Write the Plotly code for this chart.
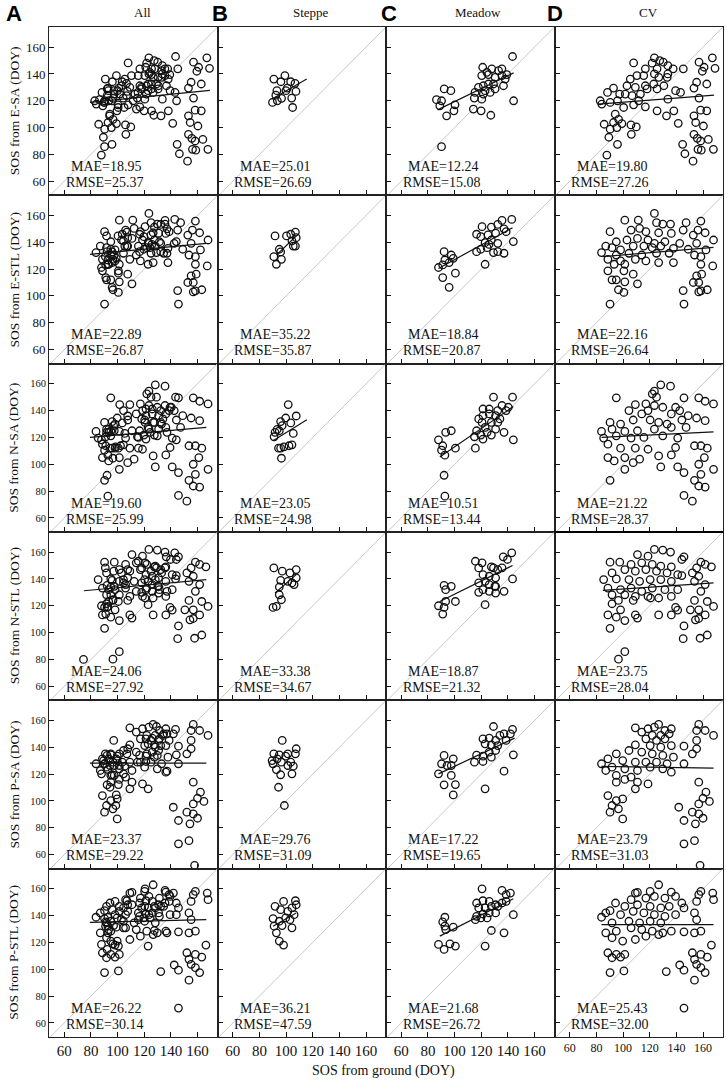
import plotly.graph_objects as go
from plotly.subplots import make_subplots

# ---------------- data ----------------
PRODUCTS = ["E-SA", "E-STL", "N-SA", "N-STL", "P-SA", "P-STL"]
COLUMNS = ["All", "Steppe", "Meadow", "CV"]
PANEL_LETTERS = ["A", "B", "C", "D"]
TICKS = [60, 80, 100, 120, 140, 160]
X_LABEL = "SOS from ground (DOY)"

MAE_ALL = [18.95, 22.89, 19.60, 24.06, 23.37, 26.22]
RMSE_ALL = [25.37, 26.87, 25.99, 27.92, 29.22, 30.14]
MAE_STEPPE = [25.01, 35.22, 23.05, 33.38, 29.76, 36.21]
RMSE_STEPPE = [26.69, 35.87, 24.98, 34.67, 31.09, 47.59]
MAE_MEADOW = [12.24, 18.84, 10.51, 18.87, 17.22, 21.68]
RMSE_MEADOW = [15.08, 20.87, 13.44, 21.32, 19.65, 26.72]
MAE_CV = [19.80, 22.16, 21.22, 23.75, 23.79, 25.43]
RMSE_CV = [27.26, 26.64, 28.37, 28.04, 31.03, 32.00]

# (ground SOS, satellite SOS) pairs
ESA_STEPPE = [(90.8,136.2),(99.1,138.8),(96.1,134.2),(103.4,134.2),(106.7,133),(93.1,127.5),(100.9,129.5),
              (107.4,127),(92.3,124.2),(96.6,121.8),(89.8,118.8),(104.2,122),(104.9,115),(93.4,120),(99.9,127.5)]
ESA_MEADOW = [(143.5,153),(121.1,145),(127.9,143.8),(133,142.5),(135.5,143.8),(124.2,141.2),(120.4,138.8),
              (125.4,139.5),(130.4,137.5),(135.5,138.8),(139.2,139.5),(138,136.2),(121.6,131.2),(117.9,130),
              (125.4,132.5),(129.2,132.5),(122.9,127.5),(130.4,128.8),(136.7,131.2),(115.3,126.2),(121.6,125),
              (126.7,126.2),(120.4,121.2),(114.8,122),(144.3,120),(114.1,113.8),(119.9,112.5),(127.2,109.2),
              (92.2,128.8),(97.2,127.5),(86.4,120.8),(90.2,120),(88.9,116.2),(100.3,117),(94,108.8),(99.5,112.5),
              (90.2,85.8)]
ESA_CV = [(167,152),(169,144.2),(157,148.8),(160.8,145),(159.5,142),(145.2,143.8),(107.9,148.2),(123.5,152),
          (127.5,150),(130.1,148.8),(121.8,148),(116.7,143.8),(125.5,143.8),(133.6,146.2),(137.6,143.8),
          (105.4,136.2),(110.4,138.8),(115.5,138.8),(123.5,140),(126.8,137.5),(133.1,137.5),(102.9,131.2),
          (109.2,130),(116.7,131.2),(123,132.5),(130.6,131.2),(133.6,140),(139.4,127.5),(143.1,126.2),
          (153.2,129.5),(155.2,133.8),(162.8,132.5),(92.8,129.5),(97.4,125),(101.6,125),(106.7,123.8),
          (113,125),(118,128.8),(125.5,128.8),(133.6,121.2),(88.3,126.2),(82.8,120),(84,117.5),(90.3,118.8),
          (95.8,120),(100.4,115),(107.9,117),(111.7,120),(116.7,115.5),(125.5,112.5),(132.6,108.8),
          (138.1,112.5),(157,122),(158.2,113),(162.8,112.5),(94.1,110),(96.6,106.2),(99.1,103),(95.3,100),
          (92.8,103.8),(85.8,102.5),(90.3,98.8),(105.9,102),(109.9,100.5),(106.2,95),(141.4,103.2),
          (153.2,108.8),(154.5,103.8),(160.3,101.2),(153.2,95),(155.7,92),(158.2,90),(164,91.2),(156.2,83.8),
          (158.7,83.2),(167.8,83.8),(144.7,87.5),(146.4,80.5),(152.5,75),(95.8,87.5),(89.3,92.8),(87.8,79.5)]

ESTL_STEPPE = [(91.7,144.7),(100.3,144.7),(103.5,146),(107,147.6),(107.6,143.4),(104.4,141),(105.4,137.2),
               (107,137.2),(95.9,132.8),(94.9,134.8),(90.8,129.3),(96.5,127.3),(92.7,123.6)]
ESTL_MEADOW = [(142.9,157),(135.6,156.3),(120.6,151.6),(127.6,151.3),(132.4,153.3),(116.5,146),(119.7,144.2),
               (125.1,145.5),(130.8,146.8),(137.1,150),(138.7,147.9),(122.9,139.7),(127.6,141.7),(132.4,139.2),
               (116.5,133),(119.7,134.8),(124.4,136),(129.2,132.3),(132.4,133),(137.1,131.8),(144.1,140.5),
               (125.8,138.4),(92.1,133),(97.5,130.5),(99,128),(92.7,126.8),(91.1,123.1),(87.9,121.2),(95.9,124.9),
               (91.1,113.7),(100.6,117),(95.9,106.4),(122.9,123.6)]
ESTL_CV = [(123.5,161.5),(101.3,156.5),(111.4,156.5),(147.3,154.6),(125.1,154.6),(129.8,153.6),(135.6,153.6),
           (158.4,155.8),(90.2,147.9),(106,149.1),(112.4,150.3),(117.1,147.9),(126.7,147.1),(136.2,146.6),
           (145.1,149.1),(152.7,145.4),(156.2,149.1),(161.6,147.1),(167.9,141.7),(94.9,140.4),(102.9,141.7),
           (110.8,142.9),(118.7,141.7),(123.5,139.2),(131.4,140.4),(142.5,139.2),(155.2,139.2),(87,137.2),
           (91.7,136),(98.1,134.3),(107.6,137.2),(115.6,137.2),(121.9,136),(128.3,137.2),(137.8,135.5),
           (148.9,134.8),(162.2,134.3),(83.8,132.3),(94.9,130.5),(104.4,131.8),(114,130.5),(125.1,131.8),
           (134.6,131.8),(153.6,130.5),(158.4,129.3),(88.6,127.3),(98.1,126.1),(109.2,127.3),(117.1,126.1),
           (126.7,124.9),(137.8,124.9),(93.3,123.6),(101.3,123.6),(158.4,123.6),(167.3,122.4),(88.6,118.7),
           (100.6,118.7),(107.6,116.2),(94.9,112),(101.3,110.5),(91.7,112),(110.8,109),(96.5,104.6),
           (100.6,102.6),(155.2,115),(159,116.2),(152.7,110),(156.8,110),(158.4,103.8),(163.2,104.6),
           (145.1,104),(156.8,103),(90.2,93.9),(145.7,93.9)]

NSA_STEPPE = [(101.6,144.5),(107.6,136),(99.7,134.5),(95.9,131.8),(103.5,130.8),(97,128.8),(93.3,126),
              (91.7,123.8),(94.9,125),(91,120.5),(105.4,123),(95.9,112),(98.4,113),(102.2,113.8),(104.4,114.5),
              (96.5,104.5),(94.3,112)]
NSA_MEADOW = [(129.2,150),(143.5,150),(121.3,141.2),(126,141.2),(135.6,143.8),(132.4,140),(140.3,142.5),
              (138.7,140),(121.3,136.2),(126,137.5),(130.8,136.2),(120.6,131.2),(127.6,131.2),(134,133.8),
              (122.9,127.5),(130.8,126.2),(116.5,125),(124.4,123.8),(119.7,121.8),(127.6,121.8),(114.9,120.5),
              (121.3,118.8),(137.1,123.8),(144.1,118.2),(115.6,112),(97.5,125),(93.3,123.8),(87.9,118.2),
              (91.1,113.8),(100.6,112),(92.7,106.8),(90.2,110.5),(92.1,91.8),(92.7,76.2),(118.1,133.8),
              (132.4,131.2)]
NSA_CV = [(128.3,159.2),(135.6,158.2),(123.5,154.5),(121.9,152.5),(125.1,150),(94.9,149.5),(145.7,149.5),
          (156.8,149.5),(161.6,147),(167.9,145),(109.2,144.5),(117.1,145),(123.5,143.8),(129.8,142.5),
          (118.7,140),(139.4,142.5),(136.2,137.5),(142.5,140),(104.4,140),(114,137.5),(148.9,136.2),
          (155.2,134.5),(161.6,132.5),(90.2,131.2),(98.1,130),(107.6,133),(120.3,133),(126.7,131.2),
          (133,130),(144.1,133),(83.8,124.5),(91.7,126.2),(101.3,124.5),(110.8,125),(123.5,126.2),
          (136.2,127.5),(147.3,127.5),(85.4,119.5),(94.9,121.2),(106,119.5),(115.6,120),(129.8,121.2),
          (141,119.5),(88.6,115),(98.1,112),(109.2,112),(118.7,111.2),(139.4,112.5),(153.6,113.8),
          (158.4,113.8),(163.2,112),(88.6,105),(93.3,102.5),(101.3,105),(107.6,101.2),(112.4,103.8),
          (126.7,106.2),(136.2,107),(161,105),(101.3,96.2),(128.3,98),(141,98),(145.7,93.8),(156.8,100),
          (158.4,92.5),(167.9,96.2),(153.6,88),(156.8,83.8),(161.6,83),(90.2,88),(145.7,76.8),(152,72.5)]

NSTL_STEPPE = [(90.8,148.2),(97.1,145.8),(102.9,144.5),(107.6,147),(101.3,138.2),(95.9,139),(104.4,137),
               (107.6,140.8),(106,135.8),(94.9,134),(94.9,128.2),(96.5,124.5),(90.2,118.8),(92.7,119.5)]
NSTL_MEADOW = [(142.9,159.5),(136.5,156.5),(139.7,154.5),(115.6,153.2),(120.6,152),(118.1,148.2),(127.6,149),
               (129.2,148.2),(132.4,147),(135.6,148.2),(121.3,143.2),(126,142),(130.8,140.8),(143.5,140),
               (118.1,137),(122.9,138.2),(126,135.8),(130.8,134.5),(121.3,132),(118.1,130),(126,130.8),
               (130.8,129.5),(137.1,130.8),(130.2,134.5),(122.9,120.8),(92.1,135.2),(97.5,134.5),(93.3,132),
               (100.6,123.2),(93.3,123.2),(87.9,120),(92.1,118.8),(91.1,113.8)]
NSTL_CV = [(123.5,162),(129.8,161.5),(135.6,160),(110.8,158.2),(118.7,157),(145.7,156.5),(144.1,154.5),
           (90.2,152.5),(97.5,152.5),(106,150.8),(114,152),(121.9,150.8),(128.3,149.5),(136.2,149),
           (158.4,152.5),(161.6,150.8),(166.3,149),(155.2,148.2),(101.3,147),(109.2,145.8),(117.1,147),
           (125.1,145.8),(133,144.5),(141,143.2),(152,144.5),(156.8,142),(91.7,144.5),(85.4,139.5),(94.9,140),
           (104.4,139.5),(112.4,138.2),(120.3,139.5),(128.3,139.5),(136.2,138.2),(144.1,142.5),(153.6,138.2),
           (161.6,135.8),(88.6,133.2),(98.1,132),(106,133.2),(114,130.8),(121.9,133.2),(131.4,132),(141,132),
           (158.4,130.8),(91.7,128.2),(101.3,128.2),(109.2,127),(118.7,127),(126.7,125.8),(136.2,127),
           (96.5,124),(107.6,124),(120.6,125.8),(153.6,124),(163.2,123.2),(150.5,117),(156.8,117),(91.7,121.5),
           (98.1,117),(88.6,113.2),(94.9,111.5),(101.3,109),(109.2,113.2),(110.8,110.8),(90.2,103.2),
           (126.7,113.2),(136.2,113.2),(139.4,118.8),(141,116.8),(156.8,110.5),(161.6,113.2),(154.3,109.5),
           (167.9,119.5),(145.7,105),(145.1,95.5),(157.8,95.8),(163.2,98.2),(101.3,85.8),(96.5,80.2)]

PSA_STEPPE = [(97.1,145.1),(90.8,135.1),(94.9,134.4),(99.7,133.4),(107.6,138.9),(107,135.1),(101.3,135.1),
              (93.3,131.4),(89.5,130.1),(96.5,128.9),(103.5,128.9),(101.3,126.4),(92.7,123.4),(104.4,120.2),
              (95.9,119.5),(94.3,110.2),(98.7,96.6),(105.4,125.9),(90.2,127.7)]
PSA_MEADOW = [(129.2,155.5),(143.5,153.3),(141.9,150),(137.1,150),(134,148.8),(121.3,146.3),(126,146.8),
              (130.8,145.1),(122.9,142.6),(127.6,141.8),(132.4,141.3),(138.7,145.1),(116.5,134.1),(121.3,133.4),
              (126,136.4),(130.8,137.6),(114.9,128.9),(121.3,129.4),(127.6,132.6),(144.1,134.4),(137.1,122.2),
              (122.9,109),(92.1,133.9),(99,131.4),(90.2,127.7),(94.3,126.4),(97.5,126.4),(87.9,120.2),(97.5,119),
              (92.1,112),(100.6,112.2),(99,104.5)]
PSA_CV = [(126.7,157),(109.2,154.5),(118.7,153.8),(123.5,155),(131.4,152.5),(136.2,153.8),(156.8,157),
          (155.2,152.5),(161.6,152.5),(167.9,148.8),(114,151.3),(121.9,148.8),(128.3,148.8),(134.6,150),
          (117.1,146.3),(125.1,145.1),(131.4,146.3),(109.2,141.8),(120.3,141.3),(128.3,140.1),(136.2,141.3),
          (145.7,140.8),(155.2,145.1),(94.9,135.1),(104.4,137.6),(114,136.4),(121.9,135.1),(129.8,133.9),
          (137.8,132.6),(152,135.1),(155.2,138.9),(88.6,131.4),(99.7,130.1),(109.2,128.9),(117.1,128.9),
          (125.1,128.9),(133,127.7),(145.7,127.7),(83.8,127.7),(91.7,125.2),(101.3,123.9),(110.8,122.7),
          (120.3,125.2),(129.8,123.9),(136.2,121.4),(87,122.7),(94.9,119),(101.3,116),(106,117.7),(94.9,114),
          (110.8,114),(118.7,112.7),(109.2,109),(156.8,114),(88.6,104),(94.9,100.3),(99.7,101.5),(91.7,96.6),
          (96.5,94.1),(90.2,91.6),(99.7,86.6),(160,102),(164.8,99.6),(162.2,106.5),(156.8,97.8),(141.8,95.3),
          (152,91.6),(156.8,90.3),(160,87.1),(154.3,82.9),(145.7,85.4),(145.7,68),(153.6,70.4),(157.8,52)]

PSTL_STEPPE = [(98.1,150.6),(107,151.1),(107.6,148.1),(91.7,146.9),(95.9,144.4),(101.3,143.2),(104.4,145.7),
               (99.7,138.3),(90.2,137.8),(94.9,135.8),(102.9,137),(106,140.7),(91,132.1),(97,132.6),(104.4,130.9),
               (92.7,127.2),(94.9,121),(98.1,118)]
PSTL_MEADOW = [(120.6,160),(135.6,158.8),(141.9,156.8),(138.7,155.6),(116.5,149.4),(121.3,151.1),(126,150.6),
               (130.8,148.1),(135.6,149.4),(138.7,150.6),(118.1,145.7),(122.9,145.7),(127.6,146.9),(132.4,146.9),
               (116.5,139.5),(121.3,141.2),(126,142),(130.8,142),(115.6,137),(119.7,138.3),(124.4,138.3),
               (144.1,140.7),(127.6,128.9),(137.1,127.2),(122.9,117.3),(92.7,138.8),(91.1,135.3),(92.7,132.1),
               (99,131.4),(93.3,129.6),(87.9,118.5),(92.1,114.8),(96.5,119),(100.6,117.3)]
PSTL_CV = [(126.7,163),(109.2,156.8),(110.8,157.3),(120.3,158),(136.2,157.5),(158.4,158),(167.3,156.8),
           (156.8,155.6),(167.9,151.9),(94.3,149.4),(106,151.9),(117.1,153.1),(123.5,154.3),(131.4,153.1),
           (139.4,154.3),(144.1,149.4),(155.2,150.6),(90.2,143.7),(101.3,146.9),(110.8,148.1),(120.3,146.9),
           (128.3,145.7),(134.6,146.9),(145.7,145.7),(87,142),(98.1,140.7),(107.6,143.2),(115.6,142),
           (123.5,140.7),(131.4,139.5),(139.4,140.7),(153.6,142),(83.8,138.8),(91.7,134.6),(104.4,135.8),
           (112.4,134.6),(120.3,135.8),(128.3,134.6),(155.2,137),(87,127.2),(94.9,128.4),(106,130.9),(114,129.6),
           (121.9,128.4),(129.8,127.2),(136.2,128.4),(145.7,127.9),(153.6,127.2),(158.4,128.4),(91.7,123.5),
           (99.7,121),(109.2,122.2),(117.1,124.7),(126.7,125.9),(166.3,118),(88.6,112.3),(94.9,111.1),
           (101.3,111.1),(91.7,108.6),(98.1,109.1),(152,112.3),(158.4,111.1),(163.2,109.1),(153.6,107.4),
           (155.2,103.7),(158.4,101.2),(142.5,103.2),(145.7,99.3),(132.4,98.3),(161.6,97.5),(90.2,97.5),
           (100.6,98.8),(153.6,91.9),(145.7,71.1)]

# a few points that appear only in the combined panels
EXTRA_ALL = [[], [], [], [(74.4, 80.0)], [], []]

STEPPE = [ESA_STEPPE, ESTL_STEPPE, NSA_STEPPE, NSTL_STEPPE, PSA_STEPPE, PSTL_STEPPE]
MEADOW = [ESA_MEADOW, ESTL_MEADOW, NSA_MEADOW, NSTL_MEADOW, PSA_MEADOW, PSTL_MEADOW]
CV = [ESA_CV, ESTL_CV, NSA_CV, NSTL_CV, PSA_CV, PSTL_CV]

# fitted regression line ends (x0, y0, x1, y1) per row
FIT_ALL = [(79.2,118.8,169.3,127.8),(79.2,131,166.6,139.2),(79.2,120,166.6,127.5),
           (74.7,131.2,166.6,139.5),(79.2,128.2,166.6,128.2),(79.2,135,166.6,137)]
FIT_STEPPE = [(89.1,121.2,115.5,136.2),(93.3,131,107.6,144.7),(90.2,117.5,115.6,133.2),
              (91.7,129.5,107.6,143.2),None,(90.2,132.1,107.6,142)]
FIT_MEADOW = [(87.2,113.2,144.3,140.8),(87.9,120.5,143.5,150.8),(88.9,105.5,144.1,143),
              (88.9,123.2,143.5,150),(87.9,120.2,145,146.8),(88.9,124.7,144.1,152.6)]
FIT_CV = [(81.5,117.5,168.3,124.2),(84.8,129.3,167.9,136.2),(83.8,120,167.9,124.2),
          (84.8,131.5,167.9,137),(83.8,125.7,167.9,124.4),(83.8,133.3,167.9,133.3)]

# ---------------- figure ----------------
W, H = 726, 1086
L, R, T, B = 49, 3, 27, 49
PW, PH = W - L - R, H - T - B
SERIF = "Liberation Serif, Times New Roman, serif"
SANS = "Liberation Sans, Arial, sans-serif"

def px(xp):
    return (xp - L) / PW

def py(yp):
    return (H - B - yp) / PH

fig = make_subplots(rows=6, cols=4, horizontal_spacing=0, vertical_spacing=0)

for r in range(6):
    groups = [STEPPE[r] + MEADOW[r] + CV[r] + EXTRA_ALL[r], STEPPE[r], MEADOW[r], CV[r]]
    fits = [FIT_ALL[r], FIT_STEPPE[r], FIT_MEADOW[r], FIT_CV[r]]
    maes = [MAE_ALL[r], MAE_STEPPE[r], MAE_MEADOW[r], MAE_CV[r]]
    rmses = [RMSE_ALL[r], RMSE_STEPPE[r], RMSE_MEADOW[r], RMSE_CV[r]]
    for c in range(4):
        pts = groups[c]
        fig.add_trace(go.Scatter(x=[40, 185], y=[40, 185], mode="lines",
                                 line=dict(color="#c8c8c8", width=1), showlegend=False,
                                 hoverinfo="skip"), row=r + 1, col=c + 1)
        fig.add_trace(go.Scatter(x=[p[0] for p in pts], y=[p[1] for p in pts], mode="markers",
                                 marker=dict(symbol="circle-open", size=7.5, color="#111",
                                             line=dict(width=1.3, color="#111")),
                                 showlegend=False), row=r + 1, col=c + 1)
        f = fits[c]
        if f is not None:
            fig.add_trace(go.Scatter(x=[f[0], f[2]], y=[f[1], f[3]], mode="lines",
                                     line=dict(color="#111", width=1.2), showlegend=False),
                          row=r + 1, col=c + 1)
        fig.add_annotation(x=92, y=71, text=f"MAE={maes[c]:.2f}", showarrow=False,
                           xanchor="center", yanchor="middle",
                           font=dict(family=SERIF, size=14, color="#111"), row=r + 1, col=c + 1)
        fig.add_annotation(x=90.5, y=59, text=f"RMSE={rmses[c]:.2f}", showarrow=False,
                           xanchor="center", yanchor="middle",
                           font=dict(family=SERIF, size=14, color="#111"), row=r + 1, col=c + 1)

        fig.update_xaxes(range=[48.5, 175], tickvals=TICKS, ticks="inside", ticklen=5,
                         tickcolor="#111", showline=True, mirror=True, linecolor="#222",
                         linewidth=1, showgrid=False, zeroline=False,
                         showticklabels=(r == 5),
                         tickfont=dict(family=SERIF, size=(15 if c < 3 else 12), color="#111"),
                         row=r + 1, col=c + 1)
        fig.update_yaxes(range=[49.5, 175], tickvals=TICKS, ticks="inside", ticklen=5,
                         tickcolor="#111", showline=True, mirror=True, linecolor="#222",
                         linewidth=1, showgrid=False, zeroline=False,
                         showticklabels=(c == 0),
                         tickfont=dict(family=SERIF, size=(13 if r < 2 else 10.5), color="#111"),
                         row=r + 1, col=c + 1)

# column titles and panel letters
title_x = [142, 311, 478, 648]
letter_x = [14, 220, 389, 555]
for c in range(4):
    fig.add_annotation(x=px(title_x[c]), y=py(13), xref="paper", yref="paper", text=COLUMNS[c],
                       showarrow=False, xanchor="center", yanchor="middle",
                       font=dict(family=SERIF, size=13, color="#111"))
    fig.add_annotation(x=px(letter_x[c]), y=py(14), xref="paper", yref="paper",
                       text=f"<b>{PANEL_LETTERS[c]}</b>", showarrow=False,
                       xanchor="center", yanchor="middle",
                       font=dict(family=SANS, size=22, color="#000"))

# row titles
for r in range(6):
    yc = T + PH / 6 * (r + 0.5)
    fig.add_annotation(x=px(14), y=py(yc), xref="paper", yref="paper",
                       text=f"SOS from {PRODUCTS[r]} (DOY)", textangle=-90, showarrow=False,
                       xanchor="center", yanchor="middle",
                       font=dict(family=SERIF, size=13.5, color="#111"))

fig.add_annotation(x=px(383), y=py(1071), xref="paper", yref="paper", text=X_LABEL,
                   showarrow=False, xanchor="center", yanchor="middle",
                   font=dict(family=SERIF, size=14, color="#111"))

# heavier top border of panel D in the N-STL row
yb = T + PH / 6 * 3
fig.add_shape(type="line", xref="paper", yref="paper", x0=0.75, x1=1, y0=py(yb), y1=py(yb),
              line=dict(color="#000", width=2))

fig.update_layout(width=W, height=H, margin=dict(l=L, r=R, t=T, b=B),
                  plot_bgcolor="white", paper_bgcolor="white", showlegend=False)

fig.write_html("out.html", config={"displayModeBar": False},
               post_script="document.body.style.margin='0';document.body.style.overflow='hidden';")
